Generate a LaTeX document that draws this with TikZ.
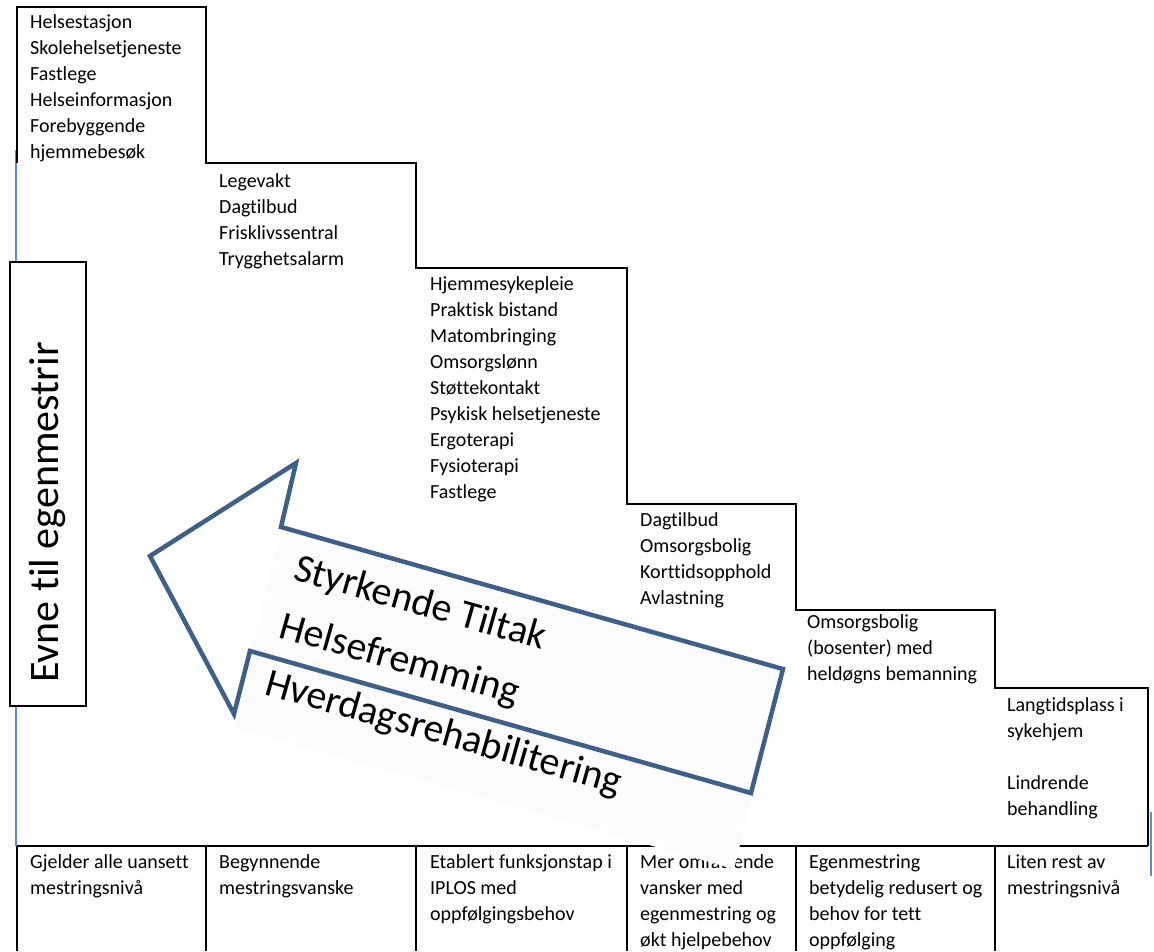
\documentclass[tikz,border=0pt]{standalone}
\usepackage{fontspec}
\setmainfont{Carlito}[Ligatures=CommonOff]
\usepackage{xcolor}
\definecolor{arrow_blue}{RGB}{60,95,140}
\definecolor{axis_blue}{RGB}{91,140,205}
\definecolor{box_tint}{RGB}{252,252,252}

\tikzset{
  stairline/.style={black, line width=2.4pt, line join=miter},
  % anchored at the baseline of the last line
  stairtext/.style={anchor=base west, align=left, inner sep=0pt, font=\fontsize{20}{26}\selectfont},
  bigtext/.style={anchor=base west, inner sep=0pt, font=\fontsize{40}{48}\selectfont, rotate=-15.8}
}

\begin{document}
\begin{tikzpicture}[x=1pt, y=-1pt]
    % Page: 1154 x 951 px, y runs downwards
    \useasboundingbox (0,0) rectangle (1154,951);

    % Thin blue axis lines
    \draw[axis_blue, line width=1.2pt] (16,150) -- (16,846);
    \draw[axis_blue, line width=1.2pt] (1151,812) -- (1151,876);

    % Staircase of service levels
    \draw[stairline] (17,163) -- (17,7) -- (206,7) -- (206,163) -- (416,163) -- (416,268)
      -- (627,268) -- (627,504) -- (796,504) -- (796,610) -- (995,610) -- (995,688)
      -- (1148,688) -- (1148,846);

    % Bottom row of cells
    \draw[stairline] (17,846) -- (1148,846);
    \foreach \x in {17,206,416,627,796,995} {
      \draw[stairline] (\x,846) -- (\x,951);
    }

    % Services on each step
    \node[stairtext] (lvl1) at (30,158) {Helsestasjon\\Skolehelsetjeneste\\Fastlege\\Helseinformasjon\\Forebyggende\\hjemmebesøk};
    \node[stairtext] (lvl2) at (219,265) {Legevakt\\Dagtilbud\\Frisklivssentral\\Trygghetsalarm};
    \node[stairtext] (lvl3) at (430,498) {Hjemmesykepleie\\Praktisk bistand\\Matombringing\\Omsorgslønn\\Støttekontakt\\Psykisk helsetjeneste\\Ergoterapi\\Fysioterapi\\Fastlege};
    \node[stairtext] (lvl4) at (640,604) {Dagtilbud\\Omsorgsbolig\\Korttidsopphold\\Avlastning};
    \node[stairtext] (lvl5) at (807,680) {Omsorgsbolig\\(bosenter) med\\heldøgns bemanning};
    \node[stairtext] (lvl6) at (1007,815) {Langtidsplass i\\sykehjem\\[26pt]Lindrende\\behandling};

    % Need descriptions in the bottom row
    \node[stairtext] (need1) at (30,894) {Gjelder alle uansett\\mestringsnivå};
    \node[stairtext] (need2) at (219,894) {Begynnende\\mestringsvanske};
    \node[stairtext] (need3) at (430,920) {Etablert funksjonstap i\\IPLOS med\\oppfølgingsbehov};
    \node[stairtext] (need4) at (640,946) {Mer omfattende\\vansker med\\egenmestring og\\økt hjelpebehov};
    \node[stairtext] (need5) at (809,946) {Egenmestring\\betydelig redusert og\\behov for tett\\oppfølging};
    \node[stairtext] (need6) at (1007,894) {Liten rest av\\mestringsnivå};

    % Vertical axis label
    \node[draw, fill=white, line width=1.5pt, minimum width=76, minimum height=444] (evnebox) at (48,484) {};
    \node[anchor=base west, inner sep=0pt, rotate=90, font=\fontsize{42}{50}\selectfont] (evne) at (58,683) {Evne til egenmestrir};

    % Big arrow pointing up-left
    \fill[white] (150,556) -- (296,463) -- (281,527) -- (783,669) -- (751,793) -- (250,651) -- (234,714) -- cycle;
    \fill[box_tint] (281,527) -- (783,669) -- (734,869) -- (233,727) -- cycle;
    \draw[arrow_blue, line width=4.5pt, line join=miter] (150,556) -- (296,463) -- (281,527)
      -- (783,669) -- (751,793) -- (250,651) -- (234,714) -- cycle;

    \node[bigtext] (tiltak) at (292,579) {Styrkende Tiltak};
    \node[bigtext] (fremming) at (277,637) {Helsefremming};
    \node[bigtext] (rehab) at (263,694) {Hverdagsrehabilitering};
\end{tikzpicture}
\end{document}
